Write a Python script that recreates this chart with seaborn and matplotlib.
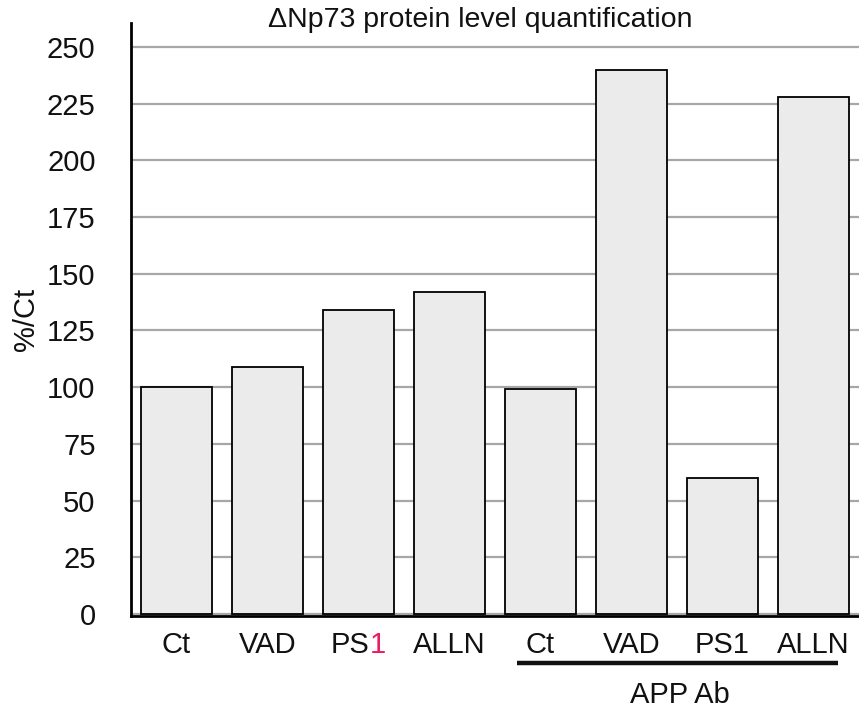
import matplotlib
matplotlib.use("Agg")
import matplotlib.pyplot as plt
import seaborn as sns
import pandas as pd
from matplotlib.lines import Line2D
import matplotlib.transforms as mtransforms

# ---- data ----
conditions = ["Ct", "VAD", "PS1", "ALLN", "Ct", "VAD", "PS1", "ALLN"]
groups = ["none", "none", "none", "none", "APP Ab", "APP Ab", "APP Ab", "APP Ab"]
values = [100, 109, 134, 142, 99, 240, 60, 228]
y_ticks = [0, 25, 50, 75, 100, 125, 150, 175, 200, 225, 250]
title = "\u0394Np73 protein level quantification"
ylabel = "%/Ct"
group_label = "APP Ab"

sns.set_theme(style="white")
plt.rcParams['font.family'] = ['Liberation Sans', 'DejaVu Sans']

FS = 21

df = pd.DataFrame({
    "pos": [str(i) for i in range(len(conditions))],
    "condition": conditions,
    "group": groups,
    "value": values,
})

fig = plt.figure(figsize=(8.59, 7.14), dpi=100)
ax = fig.add_axes([131/859, 1-616/714, 1-131/859, (616-23)/714])

sns.barplot(data=df, x="pos", y="value", order=list(df["pos"]), color="#ebebeb",
            saturation=1, width=0.77, edgecolor="black", linewidth=1.3, ax=ax, zorder=3)

ax.set_xlim(-0.5, len(conditions) - 0.5)
ax.set_ylim(-0.9, 260.6)
ax.set_yticks(y_ticks)
ax.set_yticklabels([str(t) for t in y_ticks], fontsize=FS, color="#111111")
ax.yaxis.grid(True, color="#a5a8ab", linewidth=1.6, zorder=0)
ax.xaxis.grid(False)
ax.set_axisbelow(True)
ax.tick_params(axis="y", length=0, pad=25.5)
ax.tick_params(axis="x", length=0, pad=10.5)

labels = list(conditions)
labels[2] = ""
ax.set_xticks(range(len(conditions)))
ax.set_xticklabels(labels, fontsize=FS, color="#111111")
ax.set_xlabel("")

# PS1 with pink "1"
ps = ax.annotate("PS", xy=(2, 0), xycoords=("data", "axes fraction"),
                 xytext=(0.389 * FS, -10.5), textcoords="offset points",
                 ha="right", va="top", fontsize=FS, color="#111111",
                 annotation_clip=False)
ax.annotate("1", xy=(1, 0), xycoords=ps, xytext=(0, 0), textcoords="offset points",
            ha="left", va="bottom", fontsize=FS, color="#ec1a5e",
            annotation_clip=False)

ax.set_ylabel(ylabel, fontsize=FS, color="#111111")
ax.yaxis.set_label_coords(-0.125, 0.5)

for s in ["top", "right"]:
    ax.spines[s].set_visible(False)
for s in ["left", "bottom"]:
    ax.spines[s].set_color("black")
    ax.spines[s].set_linewidth(2.0)
    ax.spines[s].set_zorder(5)

# group line + label
trans = mtransforms.blended_transform_factory(ax.transData, ax.transAxes)
ax.add_line(Line2D([3.74, 7.27], [-0.079, -0.079], transform=trans, color="#111111",
                   linewidth=3.2, clip_on=False, solid_capstyle="butt"))
ax.text(5.53, -0.133, group_label, transform=trans, ha="center", va="center",
        fontsize=FS, color="#111111")

fig.text(480/859, 1-20/714, title, ha="center", va="center", fontsize=20.5, color="#111111")

fig.savefig("out.png", dpi=100)
